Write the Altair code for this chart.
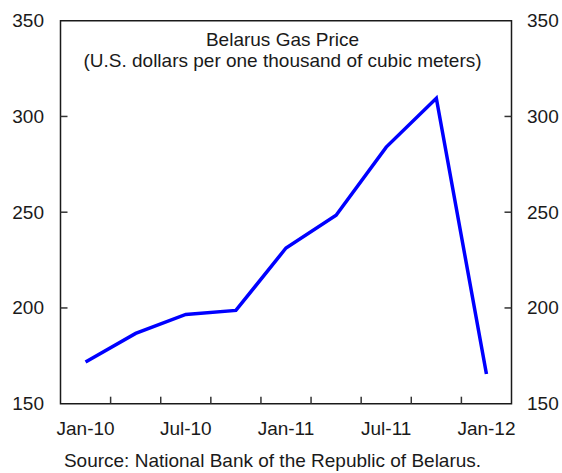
import altair as alt
import pandas as pd

# Quarterly observations (category label = first month of the quarter)
quarters = ["Jan-10", "Apr-10", "Jul-10", "Oct-10", "Jan-11", "Apr-11", "Jul-11", "Oct-11", "Jan-12"]
price = [171.8, 186.7, 196.6, 198.7, 231.3, 248.4, 284.0, 309.5, 165.5]

y_ticks = [150, 200, 250, 300, 350]
title_lines = ["Belarus Gas Price", "(U.S. dollars per one thousand of cubic meters)"]
source_note = "Source: National Bank of the Republic of Belarus."

W, H = 451, 383
FONT = "Liberation Sans"
FS = 19
INK = "#1a1a1a"

df = pd.DataFrame({"quarter": quarters, "price": price})
xtick_df = pd.DataFrame({"quarter": quarters[1:]})
ytick_df = pd.DataFrame({"price": y_ticks[1:-1]})

x_scale = alt.Scale(type="band", domain=quarters, paddingInner=0, paddingOuter=0)
y_scale = alt.Scale(domain=[150, 350], nice=False, zero=False)

x_axis = alt.Axis(
    title=None, ticks=False, domain=False, grid=False, labelAngle=0,
    labelPadding=16, labelFontSize=FS, labelFont=FONT, labelColor=INK,
    labelExpr="test(/^J/, datum.label) ? datum.label : ''",
)

line = alt.Chart(df).mark_line(color="#0000FF", strokeWidth=3.5).encode(
    x=alt.X("quarter:O", scale=x_scale, axis=x_axis, bandPosition=0.5),
    y=alt.Y("price:Q", scale=y_scale, axis=None),
)

# inward tick marks on the bottom edge, at quarter boundaries
xticks = alt.Chart(xtick_df).mark_rule(color="#333333", strokeWidth=1.5).encode(
    x=alt.X("quarter:O", scale=x_scale, axis=x_axis, bandPosition=0),
    y=alt.value(H),
    y2=alt.value(H - 7),
)

def y_axis(orient, pad):
    return alt.Axis(
        orient=orient, values=y_ticks, title=None, ticks=False, tickSize=0,
        domain=False, grid=False, labelPadding=pad, labelFontSize=FS,
        labelFont=FONT, labelColor=INK,
    )

left_ticks = alt.Chart(ytick_df).mark_rule(color="#333333", strokeWidth=1.5).encode(
    y=alt.Y("price:Q", scale=y_scale, axis=y_axis("left", 17)),
    x=alt.value(0),
    x2=alt.value(7),
)

right_ticks = alt.Chart(ytick_df).mark_rule(color="#333333", strokeWidth=1.5).encode(
    y=alt.Y("price:Q", scale=y_scale, axis=y_axis("right", 15)),
    x=alt.value(W - 7),
    x2=alt.value(W),
)

def note(text, x, y):
    return alt.Chart(pd.DataFrame({"t": [text]})).mark_text(
        font=FONT, fontSize=FS, color=INK, align="center", baseline="alphabetic"
    ).encode(x=alt.value(x), y=alt.value(y), text="t:N")

title1 = note(title_lines[0], 222, 25.3)
title2 = note(title_lines[1], 222, 46)
source = note(source_note, 212, 446)

chart = (
    alt.layer(line, xticks, left_ticks, right_ticks, title1, title2, source)
    .resolve_scale(y="shared", x="shared")
    .resolve_axis(y="independent")
    .properties(
        width=W,
        height=H,
        autosize="none",
        padding={"left": 60.5, "top": 20.7, "right": 50.5, "bottom": 69.3},
        background="white",
    )
    .configure(font=FONT)
    .configure_view(stroke=INK, strokeWidth=1.5)
)

chart.save("out.html", embed_options={"renderer": "svg", "actions": False})
